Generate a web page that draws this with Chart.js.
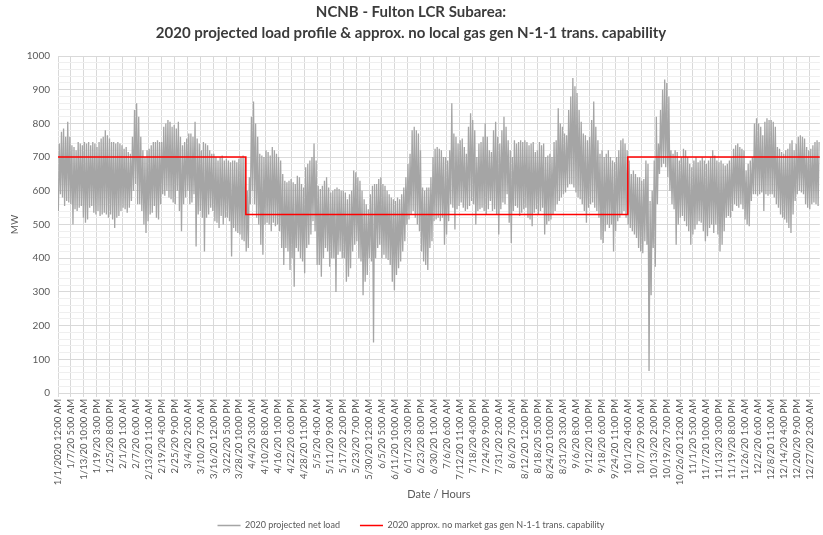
<!DOCTYPE html>
<html>
<head>
<meta charset="utf-8">
<title>NCNB - Fulton LCR Subarea</title>
<script src="https://cdn.jsdelivr.net/npm/chart.js@4.4.1/dist/chart.umd.min.js"></script>
<style>
  html, body { margin: 0; padding: 0; background: #fff; }
  #chart { display: block; }
</style>
</head>
<body>
<canvas id="chart" width="823" height="535"></canvas>
<script>
// Daily peak and overnight low of the projected net load (MW)
// Q1 = day 0..89, Q2 = 90..180, Q3 = 181..272, Q4 = 273..364 (no Feb 29 in the data)
const peakQ1 = [
  740, 775, 785, 760, 805, 760, 735, 730, 720, 745,
  740, 735, 745, 740, 745, 735, 745, 740, 730, 745,
  755, 760, 780, 765, 755, 745, 745, 740, 745, 740,
  735, 725, 730, 715, 710, 760, 840, 860, 820, 760,
  720, 700, 720, 725, 735, 745, 745, 750, 745, 745,
  790, 800, 810, 805, 790, 795, 785, 805, 760, 735,
  745, 755, 770, 770, 760, 805, 755, 740, 720, 745,
  740, 735, 720, 710, 710, 700, 690, 700, 705, 690,
  695, 690, 685, 690, 690, 685, 695, 700, 705, 700
];
const lowQ1 = [
  540, 590, 580, 555, 570, 565, 560, 500, 545, 540,
  550, 555, 520, 505, 515, 550, 555, 535, 530, 540,
  525, 530, 535, 530, 520, 530, 515, 490, 520, 525,
  540, 550, 545, 535, 550, 570, 600, 620, 560, 560,
  540, 500, 475, 510, 530, 535, 555, 520, 515, 560,
  590, 585, 600, 580, 575, 565, 560, 600, 540, 480,
  560, 580, 600, 560, 565, 590, 435, 530, 540, 520,
  420, 520, 530, 550, 540, 510, 505, 490, 525, 500,
  520, 520, 510, 405, 490, 480, 475, 470, 455, 450
];
const peakQ2 = [
  600, 640, 820, 865, 800, 760, 710, 705, 700, 720,
  715, 705, 730, 720, 710, 700, 690, 650, 630, 625,
  630, 635, 625, 620, 645, 640, 620, 610, 670, 680,
  690, 700, 740, 690, 615, 605, 615, 630, 640, 610,
  595, 600, 605, 610, 605, 600, 600, 595, 575, 590,
  600, 660, 655, 640, 630, 600, 575, 560, 545, 590,
  615, 620, 620, 635, 640, 620, 615, 600, 590, 580,
  575, 570, 580, 575, 590, 610, 640, 680, 710, 780,
  790, 780, 770, 720, 610, 600, 610, 610, 640, 700, 725
];
const lowQ2 = [
  420, 430, 560, 600, 560, 520, 500, 440, 410, 500,
  505, 500, 480, 505, 495, 500, 480, 430, 380, 430,
  420, 365, 400, 315, 430, 420, 400, 390, 355, 430,
  440, 470, 510, 480, 380, 380, 345, 400, 430, 420,
  375, 400, 400, 300, 410, 420, 400, 400, 330, 345,
  370, 420, 440, 450, 400, 390, 290, 330, 350, 400,
  390, 150, 400, 430, 440, 400, 410, 400, 395, 380,
  330, 305, 350, 370, 390, 420, 450, 500, 515, 530,
  540, 520, 500, 480, 420, 390, 380, 365, 430, 450, 510
];
const peakQ3 = [
  730, 725, 720, 700, 700, 690, 720, 860, 770, 760,
  740, 750, 755, 730, 710, 790, 830, 810, 780, 700,
  740, 745, 760, 800, 760, 720, 715, 780, 805, 760,
  740, 780, 820, 790, 750, 720, 700, 750, 740, 745,
  750, 745, 750, 745, 735, 740, 745, 715, 720, 745,
  735, 740, 700, 705, 710, 700, 745, 750, 845, 800,
  790, 770, 765, 840, 880, 935, 910, 890, 840, 805,
  770, 765, 750, 760, 810, 865, 790, 750, 710, 720,
  700, 710, 720, 700, 690, 685, 700, 720, 750, 755, 740, 720
];
const lowQ3 = [
  515, 520, 510, 520, 440, 470, 510, 560, 550, 485,
  545, 555, 565, 550, 540, 545, 555, 570, 560, 500,
  540, 545, 550, 540, 530, 545, 570, 540, 545, 530,
  470, 545, 565, 560, 590, 505, 445, 540, 555, 550,
  525, 535, 545, 550, 520, 515, 495, 535, 545, 530,
  540, 550, 470, 500, 510, 515, 530, 540, 560, 570,
  580, 590, 595, 610, 620, 620, 610, 595, 580, 575,
  560, 540, 505, 550, 560, 565, 550, 540, 520, 455,
  445, 480, 500, 490, 500, 420, 480, 510, 520, 530, 540, 520
];
const peakQ4 = [
  690, 650, 660, 650, 640, 640, 630, 635, 690, 680,
  570, 600, 690, 820, 740, 840, 900, 930, 920, 880,
  720, 710, 720, 715, 690, 700, 725, 720, 700, 680,
  670, 690, 700, 685, 690, 700, 690, 680, 690, 700,
  720, 705, 690, 685, 690, 680, 675, 680, 690, 700,
  725, 735, 740, 730, 725, 720, 660, 680, 690, 700,
  800, 815, 800, 790, 765, 805, 815, 810, 810, 805,
  790, 730, 725, 715, 710, 720, 725, 740, 750, 720,
  740, 760, 765, 760, 755, 730, 720, 725, 735, 745, 750, 745
];
const lowQ4 = [
  500, 490, 480, 470, 460, 430, 420, 415, 450, 440,
  65, 290, 430, 375, 560, 650, 670, 680, 670, 640,
  600, 560, 545, 440, 500, 520, 525, 510, 495, 480,
  440, 470, 485, 500, 510, 505, 480, 450, 465, 490,
  500, 475, 500, 470, 420, 440, 480, 520, 525, 520,
  540, 560, 555, 550, 560, 545, 515, 500, 495, 570,
  590, 590, 585, 590, 595, 540, 590, 585, 590, 590,
  580, 560, 550, 530, 520, 515, 505, 490, 475, 530,
  570, 590, 600, 595, 590, 560, 550, 545, 560, 565, 560, 555
];

// N-1-1 capability: start day of each period and its level (MW)
const capStartDay = [0, 90, 273];
const capEndDay = [90, 273, 365];
const capMW = [700, 530, 700];

// category labels every 149 hours
const tickLabels = [
  '1/1/2020 12:00 AM', '1/7/20 5:00 AM', '1/13/20 10:00 AM', '1/19/20 3:00 PM', '1/25/20 8:00 PM',
  '2/1/20 1:00 AM', '2/7/20 6:00 AM', '2/13/20 11:00 AM', '2/19/20 4:00 PM', '2/25/20 9:00 PM',
  '3/4/20 2:00 AM', '3/10/20 7:00 AM', '3/16/20 12:00 PM', '3/22/20 5:00 PM', '3/28/20 10:00 PM',
  '4/4/20 3:00 AM', '4/10/20 8:00 AM', '4/16/20 1:00 PM', '4/22/20 6:00 PM', '4/28/20 11:00 PM',
  '5/5/20 4:00 AM', '5/11/20 9:00 AM', '5/17/20 2:00 PM', '5/23/20 7:00 PM', '5/30/20 12:00 AM',
  '6/5/20 5:00 AM', '6/11/20 10:00 AM', '6/17/20 3:00 PM', '6/23/20 8:00 PM', '6/30/20 1:00 AM',
  '7/6/20 6:00 AM', '7/12/20 11:00 AM', '7/18/20 4:00 PM', '7/24/20 9:00 PM', '7/31/20 2:00 AM',
  '8/6/20 7:00 AM', '8/12/20 12:00 PM', '8/18/20 5:00 PM', '8/24/20 10:00 PM', '8/31/20 3:00 AM',
  '9/6/20 8:00 AM', '9/12/20 1:00 PM', '9/18/20 6:00 PM', '9/24/20 11:00 PM', '10/1/20 4:00 AM',
  '10/7/20 9:00 AM', '10/13/20 2:00 PM', '10/19/20 7:00 PM', '10/26/20 12:00 AM', '11/1/20 5:00 AM',
  '11/7/20 10:00 AM', '11/13/20 3:00 PM', '11/19/20 8:00 PM', '11/26/20 1:00 AM', '12/2/20 6:00 AM',
  '12/8/20 11:00 AM', '12/14/20 4:00 PM', '12/20/20 9:00 PM', '12/27/20 2:00 AM'
];
const tickHours = tickLabels.map((_, i) => i * 149);

const peak = [...peakQ1, ...peakQ2, ...peakQ3, ...peakQ4];
const low = [...lowQ1, ...lowQ2, ...lowQ3, ...lowQ4];

// one low (night) and one peak (afternoon) per day
const loadPoints = [];
peak.forEach((p, d) => {
  loadPoints.push({ x: d * 24 + 4, y: low[d] });
  loadPoints.push({ x: d * 24 + 16, y: p });
});

const capPoints = [];
capMW.forEach((mw, i) => {
  capPoints.push({ x: capStartDay[i] * 24, y: mw });
  capPoints.push({ x: capEndDay[i] * 24, y: mw });
});

Chart.defaults.font.family = "Lato, 'Open Sans', sans-serif";
Chart.defaults.color = '#595959';

new Chart(document.getElementById('chart'), {
  type: 'line',
  data: {
    datasets: [
      {
        label: '2020 projected net load',
        data: loadPoints,
        borderColor: '#a5a5a5',
        backgroundColor: '#a5a5a5',
        borderWidth: 1.3,
        pointRadius: 0,
        order: 1
      },
      {
        label: '2020 approx. no market gas gen N-1-1 trans. capability',
        data: capPoints,
        borderColor: '#ff0000',
        backgroundColor: '#ff0000',
        borderWidth: 1.5,
        pointRadius: 0,
        order: 0
      }
    ]
  },
  options: {
    responsive: false,
    animation: false,
    layout: { padding: { left: 0, right: 1, top: 2, bottom: -5 } },
    plugins: {
      title: {
        display: true,
        text: ['NCNB - Fulton LCR Subarea:', '2020 projected load profile & approx. no local gas gen N-1-1 trans. capability'],
        color: '#3b3b3b',
        font: { size: 15, weight: 'bold', lineHeight: 1.4 },
        padding: { top: 0, bottom: 12 }
      },
      legend: {
        position: 'bottom',
        labels: {
          boxWidth: 23,
          boxHeight: 0,
          padding: 20,
          font: { size: 9 },
          color: '#595959',
          sort: (a, b) => a.datasetIndex - b.datasetIndex
        }
      },
      tooltip: { enabled: false }
    },
    scales: {
      x: {
        type: 'linear',
        min: 0,
        max: 8760,
        afterBuildTicks: s => { s.ticks = tickHours.map(v => ({ value: v })); },
        afterFit: s => { s.height = 108; },
        ticks: {
          autoSkip: false,
          minRotation: 90,
          maxRotation: 90,
          padding: 2,
          font: { size: 9.5 },
          callback: (v, i) => tickLabels[i]
        },
        grid: { color: '#d9d9d9', tickLength: 4 },
        border: { color: '#d9d9d9' },
        title: { display: true, text: 'Date / Hours', font: { size: 11 }, padding: { top: 0, bottom: 0 } }
      },
      y: {
        min: 0,
        max: 1000,
        afterFit: s => { s.width = 58; },
        ticks: {
          stepSize: 20,
          autoSkip: false,
          padding: 8,
          font: { size: 10 },
          callback: v => (v % 100 === 0 ? v : '')
        },
        grid: {
          drawTicks: false,
          color: c => (c.tick.value % 100 === 0 ? '#d9d9d9' : '#efefef')
        },
        border: { display: false },
        title: { display: true, text: 'MW', font: { size: 10 }, padding: { top: 9, bottom: 0 } }
      }
    }
  }
});
</script>
</body>
</html>
